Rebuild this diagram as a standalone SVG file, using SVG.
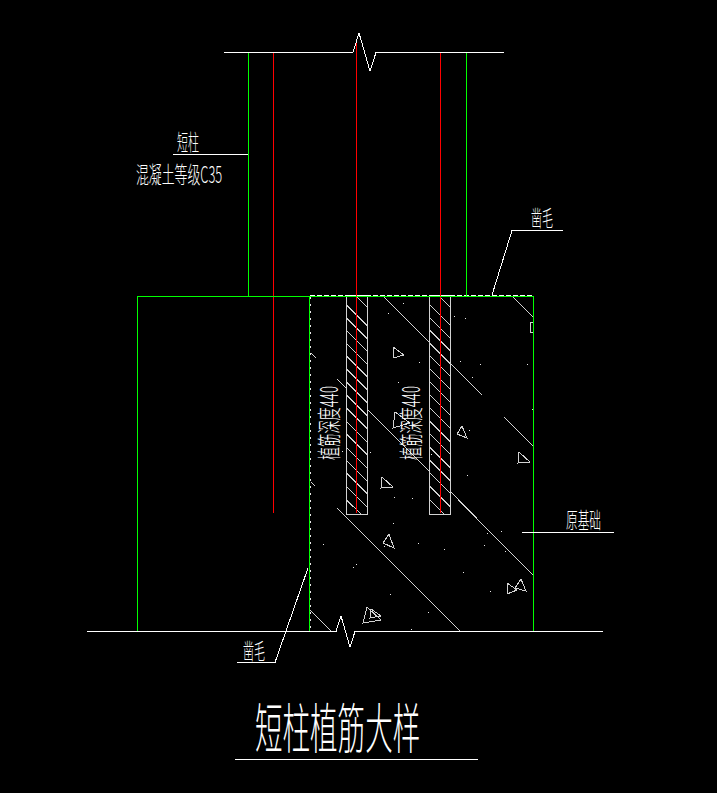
<svg xmlns="http://www.w3.org/2000/svg" width="717" height="793" viewBox="0 0 717 793">
<style>
path{shape-rendering:crispEdges}
.w{stroke:#fff;fill:none;stroke-width:1}
.g{stroke:#0f0;fill:none;stroke-width:1}
.r{stroke:#f00;fill:none;stroke-width:1}
.h{stroke:#d2d2d2;fill:none;stroke-width:1}
.d{stroke:#e8e8e8;fill:none;stroke-width:1;stroke-linecap:square}
.t{fill:#fff;font-family:"Noto Sans CJK SC","Liberation Sans",sans-serif;font-weight:300}
</style>
<rect width="717" height="793" fill="#000"/>
<g id="connectors">
<path class="h" d="M346.500 296V514.500H367.500V296M429.500 296V514.500H450.500V296"/>
<path class="h" d="M357 297L367 307M346.500 305L367 325.500M346.500 318L367 338.500M346.500 330.500L367 351M346.500 343.500L367 364M346.500 356L367 376.500M346.500 369L367 389.500M346.500 382L367 402.500M346.500 395L367 415.500M346.500 408L367 428.500M346.500 421.500L367 442M346.500 434L367 454.500M346.500 447.500L367 468M346.500 460.500L367 481M346.500 473L367 493.500M346.500 486.500L367 507M346.500 500L361 514M440 297L450 307M430 305L450 325M430 318L450 338M430 330.500L450 350.500M430 343.500L450 363.500M430 356L450 376M430 369L450 389M430 382L450 402M430 395L450 415M430 408L450 428M430 421.500L450 441.500M430 434L450 454M430 447.500L450 467.500M430 460.500L450 480.500M430 473L450 493M430 486.500L450 506.500M430 500L444 514"/>
<path class="h" d="M384 297L429 342M451 364L482 395M337 379L346 388M368 410L429 471M451 492L488 530M337 508L460 631M458 500L533 575M504 417L533 446M513 297L533 317M311 353L316 358M311 482L315 486M310 610L331 631"/>
<path class="h" d="M393 347L404 355L393 358ZM462 426L467 438L457 434ZM519 452L530 462L518 463ZM382 477L393 487L381 488ZM395 412L410 423L393 428ZM389 534L394 548L383 543ZM367 607L381 620L363 623ZM371 609L381 616L370 618ZM507 583L517 590L507 594ZM521 579L526 591L515 588ZM533 322H530.500V332.500H533"/>
<path class="d" stroke-dasharray="1 6" d="M310.500 297V631"/>
<path class="d" d="M403 303h.1M388 313h.1M454 316h.1M465 318h.1M419 362h.1M460 361h.1M480 364h.1M527 364h.1M398 382h.1M472 377h.1M532 409h.1M469 430h.1M342 451h.1M370 452h.1M431 454h.1M467 475h.1M394 497h.1M412 498h.1M393 523h.1M323 544h.1M418 543h.1M444 549h.1M484 545h.1M487 533h.1M501 531h.1M505 551h.1M384 546h.1M356 564h.1M353 567h.1M463 572h.1M490 591h.1M390 594h.1M428 612h.1M411 629h.1"/>
<path class="w" stroke-dasharray="5 2" d="M310 295.500H533"/>
<path class="w" d="M346 295.500H368M429 295.500H451"/>
<path class="r" d="M273.500 52V513M356.500 40V513M440.500 52V513"/>
<path class="g" d="M248.500 52V296M466.500 52V296M137.500 631V296.500H533.500V631M309.500 296V631"/>
<path class="w" d="M224 52.500H353L359 33L370 71L376 52.500H504"/>
<path class="w" d="M87 631.500H336L341 616L350 647L355 631.500H603"/>
<path class="w" d="M173 154.500H248M563 230.500H512L492 295M522 532.500H614M237 662.500H275L308 568M235 759.500H478"/>
</g>
<g id="label-short-column"><text class="t" transform="translate(177 150) scale(0.5 1)" font-size="22">短柱</text></g>
<g id="label-concrete"><text class="t" transform="translate(136 183) scale(0.56 1)" font-size="23">混凝土等级C35</text></g>
<g id="label-chisel-top"><text class="t" transform="translate(531 226) scale(0.5 1)" font-size="22">凿毛</text></g>
<g id="label-chisel-bottom"><text class="t" transform="translate(243 659) scale(0.5 1)" font-size="22">凿毛</text></g>
<g id="label-original"><text class="t" transform="translate(566 528) scale(0.53 1)" font-size="22">原基础</text></g>
<g id="label-depth-1"><text class="t" transform="translate(338 460) rotate(-90) scale(0.55 1)" font-size="24">植筋深度440</text></g>
<g id="label-depth-2"><text class="t" transform="translate(420 460) rotate(-90) scale(0.55 1)" font-size="24">植筋深度440</text></g>
<g id="title"><text class="t" transform="translate(255 749) scale(0.51 1)" font-size="54">短柱植筋大样</text></g>
</svg>
